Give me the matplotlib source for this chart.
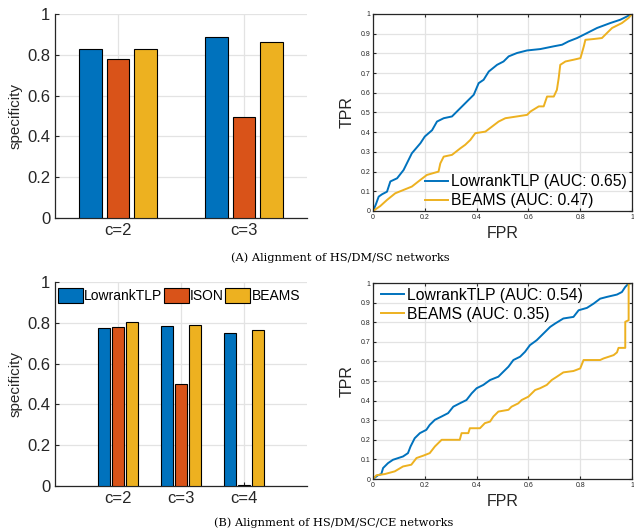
import numpy as np
import matplotlib.pyplot as plt

plt.rcParams['font.family'] = ['Liberation Sans', 'DejaVu Sans']

methods = ['LowrankTLP', 'ISON', 'BEAMS']
colors = ['#0072BD', '#D95319', '#EDB120']

# (A) bar data
cats_a = ['c=2', 'c=3']
spec_a = {
    'LowrankTLP': [0.830, 0.885],
    'ISON': [0.778, 0.493],
    'BEAMS': [0.827, 0.865],
}
# (B) bar data
cats_b = ['c=2', 'c=3', 'c=4']
spec_b = {
    'LowrankTLP': [0.775, 0.785, 0.752],
    'ISON': [0.780, 0.500, 0.003],
    'BEAMS': [0.802, 0.790, 0.763],
}

# ROC (A)
roc_a_lr_fpr = [0, 0.01, 0.022, 0.035, 0.054, 0.067, 0.093, 0.118, 0.15, 0.183, 0.2, 0.228, 0.247,
                0.273, 0.305, 0.324, 0.35, 0.369, 0.389, 0.408, 0.427, 0.447, 0.479, 0.504, 0.524,
                0.556, 0.595, 0.646, 0.698, 0.73, 0.755, 0.788, 0.826, 0.865, 0.916, 0.955, 1.0]
roc_a_lr_tpr = [0, 0.03, 0.073, 0.085, 0.098, 0.15, 0.166, 0.208, 0.293, 0.344, 0.378, 0.41, 0.454,
                0.471, 0.48, 0.505, 0.539, 0.564, 0.59, 0.649, 0.666, 0.708, 0.742, 0.759, 0.785,
                0.802, 0.815, 0.822, 0.836, 0.844, 0.861, 0.878, 0.903, 0.929, 0.954, 0.971, 1.0]
roc_a_bm_fpr = [0, 0.028, 0.054, 0.086, 0.118, 0.15, 0.183, 0.208, 0.253, 0.26, 0.273, 0.305, 0.337,
                0.356, 0.376, 0.395, 0.434, 0.46, 0.485, 0.511, 0.556, 0.595, 0.608, 0.64, 0.659,
                0.672, 0.698, 0.71, 0.717, 0.723, 0.743, 0.775, 0.801, 0.814, 0.82, 0.852, 0.884,
                0.903, 0.923, 0.961, 0.987, 1.0]
roc_a_bm_tpr = [0, 0.025, 0.056, 0.09, 0.107, 0.124, 0.158, 0.183, 0.2, 0.242, 0.276, 0.285, 0.318,
                0.336, 0.361, 0.395, 0.403, 0.429, 0.454, 0.471, 0.48, 0.488, 0.505, 0.531, 0.531,
                0.581, 0.581, 0.615, 0.675, 0.742, 0.759, 0.768, 0.776, 0.836, 0.869, 0.873, 0.878,
                0.903, 0.929, 0.954, 0.98, 1.0]

# ROC (B)
roc_b_lr_fpr = [0, 0.019, 0.032, 0.039, 0.058, 0.077, 0.116, 0.135, 0.145, 0.161, 0.181, 0.206,
                0.219, 0.239, 0.265, 0.29, 0.31, 0.335, 0.361, 0.381, 0.4, 0.426, 0.452, 0.484,
                0.503, 0.523, 0.542, 0.568, 0.587, 0.606, 0.632, 0.658, 0.684, 0.703, 0.735, 0.774,
                0.794, 0.826, 0.852, 0.877, 0.903, 0.942, 0.961, 0.974, 0.987, 1.0]
roc_b_lr_tpr = [0, 0.019, 0.025, 0.056, 0.081, 0.098, 0.115, 0.132, 0.166, 0.208, 0.234, 0.251,
                0.276, 0.302, 0.319, 0.336, 0.369, 0.386, 0.403, 0.437, 0.463, 0.48, 0.505, 0.522,
                0.547, 0.573, 0.607, 0.624, 0.649, 0.683, 0.708, 0.742, 0.776, 0.793, 0.819, 0.827,
                0.861, 0.873, 0.895, 0.92, 0.929, 0.941, 0.954, 0.98, 0.997, 1.0]
roc_b_bm_fpr = [0, 0.013, 0.045, 0.084, 0.116, 0.148, 0.168, 0.194, 0.219, 0.239, 0.265, 0.335,
                0.342, 0.368, 0.374, 0.413, 0.432, 0.452, 0.465, 0.484, 0.523, 0.535, 0.561, 0.574,
                0.6, 0.626, 0.645, 0.671, 0.69, 0.71, 0.735, 0.774, 0.8, 0.813, 0.877, 0.89, 0.929,
                0.942, 0.948, 0.974, 0.974, 0.987, 0.987, 1.0]
roc_b_bm_tpr = [0, 0.019, 0.025, 0.039, 0.064, 0.073, 0.107, 0.119, 0.132, 0.166, 0.2, 0.2,
                0.234, 0.234, 0.259, 0.259, 0.285, 0.293, 0.319, 0.344, 0.353, 0.369, 0.386, 0.403,
                0.42, 0.454, 0.463, 0.48, 0.505, 0.522, 0.544, 0.551, 0.564, 0.607, 0.607, 0.615,
                0.632, 0.646, 0.669, 0.669, 0.802, 0.81, 0.997, 1.0]

W, H = 634, 531
fig = plt.figure(figsize=(W / 100, H / 100), dpi=100)


def px_axes(left, top, right, bottom):
    return fig.add_axes([left / W, 1 - bottom / H, (right - left) / W, (bottom - top) / H])


dark = '#262626'
gridc = '#e3e3e3'


def bar_panel(ax, cats, spec, start, xlim, width, offset):
    x = np.arange(len(cats)) + start
    for i, m in enumerate(methods):
        ax.bar(x + (i - 1) * offset, spec[m], width, color=colors[i], edgecolor='black',
               linewidth=0.8, label=m, zorder=3)
    ax.set_xlim(*xlim)
    ax.set_ylim(0, 1)
    ax.set_xticks(x)
    ax.set_xticklabels(cats)
    ax.set_yticks(np.arange(0, 1.01, 0.2))
    ax.set_yticklabels(['0', '0.2', '0.4', '0.6', '0.8', '1'])
    ax.grid(True, color=gridc, linewidth=0.9, zorder=0)
    ax.set_axisbelow(True)
    for s in ['top', 'right']:
        ax.spines[s].set_visible(False)
    for s in ['left', 'bottom']:
        ax.spines[s].set_color(dark)
        ax.spines[s].set_linewidth(0.9)
    ax.tick_params(direction='in', labelsize=12, colors=dark, length=3)
    ax.set_ylabel('specificity', fontsize=11, color=dark, labelpad=3)


def roc_panel(ax, curves, loc, anchor):
    for fpr, tpr, c, lab in curves:
        ax.plot(fpr, tpr, color=c, linewidth=1.4, label=lab)
    ax.set_xlim(0, 1)
    ax.set_ylim(0, 1)
    ax.set_xticks(np.arange(0, 1.01, 0.2))
    ax.set_xticklabels(['0', '0.2', '0.4', '0.6', '0.8', '1'])
    ax.set_yticks(np.arange(0, 1.01, 0.1))
    ax.set_yticklabels(['0', '0.1', '0.2', '0.3', '0.4', '0.5', '0.6', '0.7', '0.8', '0.9', '1'])
    ax.grid(True, color=gridc, linewidth=0.9)
    for s in ax.spines.values():
        s.set_color(dark)
        s.set_linewidth(0.9)
    ax.tick_params(direction='in', labelsize=5, colors=dark, length=2, top=True, right=True, pad=2)
    ax.set_xlabel('FPR', fontsize=11.5, color=dark, labelpad=4)
    ax.set_ylabel('TPR', fontsize=11.5, color=dark, labelpad=4)
    ax.legend(loc=loc, bbox_to_anchor=anchor, frameon=False, fontsize=11.3, borderpad=0,
              borderaxespad=0, handlelength=1.5, handletextpad=0.2, labelspacing=0.25)


ax1 = px_axes(55, 14, 307, 218)
bar_panel(ax1, cats_a, spec_a, 1, (0.5, 2.5), 0.18, 0.217)

ax2 = px_axes(373, 14, 632, 211)
roc_panel(ax2, [(roc_a_lr_fpr, roc_a_lr_tpr, colors[0], 'LowrankTLP (AUC: 0.65)'),
                (roc_a_bm_fpr, roc_a_bm_tpr, colors[2], 'BEAMS (AUC: 0.47)')],
          'lower left', (0.2, 0.015))

ax3 = px_axes(55, 282, 307, 486)
bar_panel(ax3, cats_b, spec_b, 2, (1, 5), 0.18, 0.22)
ax3.legend(loc='upper left', bbox_to_anchor=(0.01, 0.97), ncol=3, frameon=False, fontsize=10,
           borderpad=0, borderaxespad=0, handlelength=1.8, handleheight=1.3,
           handletextpad=0.1, columnspacing=0.1)

ax4 = px_axes(373, 283, 632, 479)
roc_panel(ax4, [(roc_b_lr_fpr, roc_b_lr_tpr, colors[0], 'LowrankTLP (AUC: 0.54)'),
                (roc_b_bm_fpr, roc_b_bm_tpr, colors[2], 'BEAMS (AUC: 0.35)')],
          'upper left', (0.03, 0.975))

fig.text(340 / W, 1 - 258 / H, '(A) Alignment of HS/DM/SC networks', ha='center', va='center',
         fontsize=8.2, family='DejaVu Serif')
fig.text(334 / W, 1 - 523 / H, '(B) Alignment of HS/DM/SC/CE networks', ha='center', va='center',
         fontsize=8.2, family='DejaVu Serif')

fig.savefig('out.png', dpi=100)
